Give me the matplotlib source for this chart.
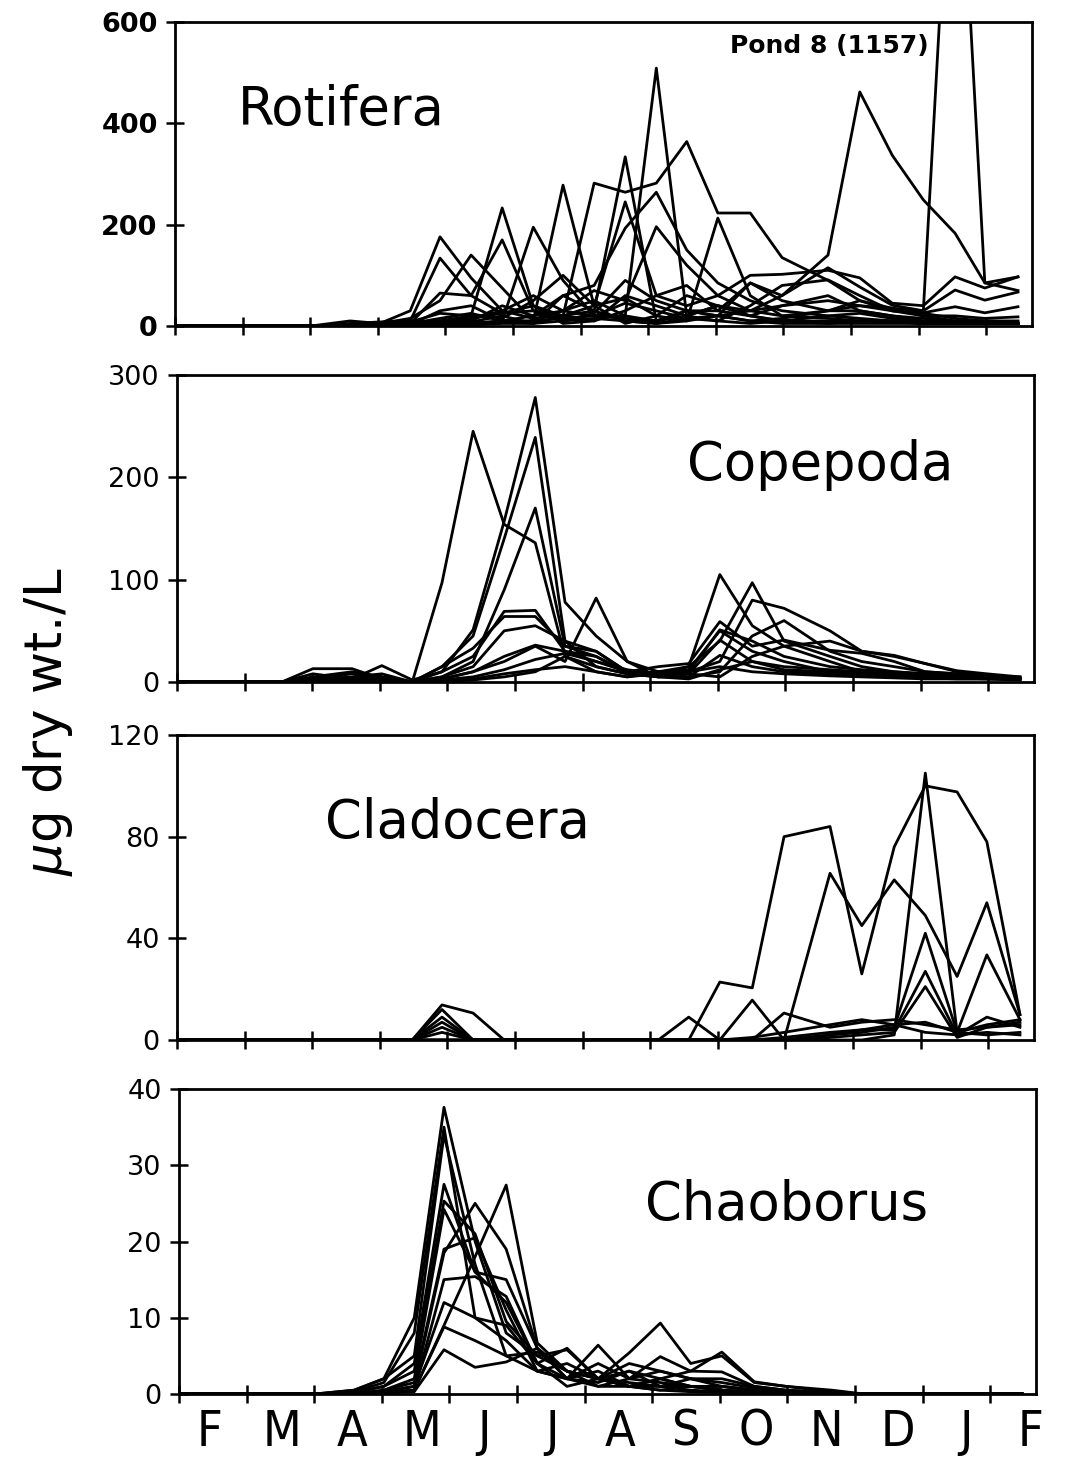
import numpy as np
import matplotlib.pyplot as plt

plt.rcParams['font.family'] = ['DejaVu Sans']

# sampling dates in months after 1 February
sample_month = [0.00, 1.01, 1.55, 2.01, 2.59, 3.03, 3.48, 3.92, 4.38, 4.84, 5.30, 5.74,
                6.20, 6.66, 7.12, 7.57, 8.03, 8.51, 8.98, 9.66, 10.13, 10.61, 11.07,
                11.54, 11.98, 12.47]

month_letters = ['F', 'M', 'A', 'M', 'J', 'J', 'A', 'S', 'O', 'N', 'D', 'J', 'F']
month_letter_pos = [0.45, 1.52, 2.56, 3.59, 4.51, 5.52, 6.52, 7.50, 8.54, 9.57,
                    10.64, 11.64, 12.60]

rotifera = [
    [0, 0, 0, 0, 10, 5, 30, 176, 95, 30, 15, 20, 40, 55, 20, 10, 20, 85, 50, 30, 50, 35, 20, 20, 15, 18],
    [0, 0, 0, 0, 5, 8, 10, 134, 60, 25, 40, 20, 10, 30, 60, 40, 60, 100, 102, 110, 95, 45, 40, 97, 75, 97],
    [0, 0, 0, 0, 3, 5, 15, 50, 140, 75, 10, 30, 50, 20, 10, 30, 30, 85, 60, 115, 77, 41, 30, 71, 51, 67],
    [0, 0, 0, 0, 2, 3, 8, 25, 20, 233, 40, 5, 10, 60, 40, 20, 10, 40, 80, 91, 60, 30, 26, 38, 26, 38],
    [0, 0, 0, 0, 2, 2, 5, 65, 60, 170, 30, 10, 25, 90, 50, 30, 20, 10, 15, 30, 30, 20, 15, 10, 10, 10],
    [0, 0, 0, 0, 0, 2, 5, 15, 25, 10, 195, 90, 20, 45, 30, 15, 10, 5, 10, 20, 25, 15, 10, 8, 8, 5],
    [0, 0, 0, 0, 0, 0, 3, 30, 40, 10, 10, 278, 40, 5, 20, 60, 40, 20, 10, 10, 10, 10, 8, 5, 5, 5],
    [0, 0, 0, 0, 0, 0, 2, 10, 15, 25, 30, 20, 282, 264, 282, 364, 223, 223, 135, 90, 50, 30, 20, 10, 5, 5],
    [0, 0, 0, 0, 0, 0, 0, 5, 10, 40, 20, 60, 30, 334, 10, 30, 20, 10, 5, 5, 10, 10, 5, 5, 5, 5],
    [0, 0, 0, 0, 0, 0, 0, 5, 15, 30, 60, 30, 20, 20, 509, 20, 40, 20, 10, 5, 5, 5, 5, 5, 5, 5],
    [0, 0, 0, 0, 0, 0, 2, 10, 20, 15, 50, 100, 40, 245, 60, 80, 30, 20, 40, 60, 30, 20, 10, 5, 5, 5],
    [0, 0, 0, 0, 0, 0, 0, 5, 8, 20, 5, 60, 80, 193, 264, 150, 85, 50, 30, 20, 15, 10, 5, 5, 5, 5],
    [0, 0, 0, 0, 0, 0, 0, 3, 5, 10, 20, 30, 70, 50, 196, 120, 60, 30, 20, 15, 10, 8, 5, 5, 5, 5],
    [0, 0, 0, 0, 0, 0, 0, 0, 5, 10, 5, 20, 30, 10, 5, 10, 213, 60, 20, 30, 40, 30, 25, 15, 10, 8],
    [0, 0, 0, 0, 0, 0, 0, 2, 5, 8, 10, 15, 20, 15, 10, 20, 40, 30, 60, 140, 462, 337, 249, 183, 85, 97],
    [0, 0, 0, 0, 0, 0, 0, 0, 2, 5, 5, 10, 15, 10, 5, 15, 20, 30, 40, 50, 40, 35, 30, 1157, 85, 70],
]

copepoda = [
    [0, 0, 0, 13, 13, 3, 0, 97, 245, 154, 136, 25, 10, 5, 8, 10, 15, 10, 8, 6, 5, 4, 3, 3, 3, 2],
    [0, 0, 0, 8, 3, 16, 2, 10, 51, 157, 278, 78, 45, 20, 10, 15, 40, 97, 40, 25, 15, 10, 8, 5, 4, 3],
    [0, 0, 0, 5, 10, 5, 0, 15, 45, 140, 239, 40, 15, 8, 10, 12, 50, 30, 20, 10, 8, 6, 4, 3, 3, 2],
    [0, 0, 0, 3, 8, 2, 0, 5, 20, 90, 170, 35, 30, 10, 8, 15, 105, 55, 35, 20, 10, 8, 6, 5, 4, 3],
    [0, 0, 0, 2, 5, 8, 0, 3, 10, 20, 35, 20, 82, 20, 5, 10, 20, 80, 72, 50, 30, 26, 18, 11, 8, 5],
    [0, 0, 0, 0, 3, 5, 0, 10, 25, 69, 70, 30, 20, 10, 15, 18, 59, 35, 41, 31, 28, 20, 10, 8, 6, 5],
    [0, 0, 0, 0, 2, 3, 0, 15, 33, 64, 64, 35, 25, 10, 6, 10, 51, 40, 25, 15, 12, 10, 8, 6, 5, 4],
    [0, 0, 0, 0, 0, 2, 0, 5, 15, 50, 55, 40, 30, 10, 5, 8, 41, 20, 12, 10, 8, 6, 5, 5, 4, 3],
    [0, 0, 0, 0, 0, 0, 0, 3, 10, 25, 36, 30, 25, 8, 5, 5, 26, 15, 10, 8, 6, 5, 4, 4, 3, 3],
    [0, 0, 0, 0, 0, 0, 0, 2, 5, 12, 22, 28, 20, 12, 8, 5, 10, 45, 60, 30, 20, 15, 10, 8, 5, 4],
    [0, 0, 0, 0, 0, 0, 0, 1, 3, 8, 12, 15, 10, 5, 10, 8, 5, 25, 35, 40, 30, 25, 18, 10, 6, 4],
    [0, 0, 0, 0, 0, 0, 0, 0, 2, 5, 10, 25, 15, 8, 5, 3, 12, 20, 15, 12, 10, 8, 6, 5, 4, 3],
]

cladocera = [
    [0, 0, 0, 0, 0, 0, 0, 13.8, 10.6, 0, 0, 0, 0, 0, 0, 0, 22.8, 20.5, 80, 84, 26, 76, 100, 97.6, 78, 10],
    [0, 0, 0, 0, 0, 0, 0, 12, 0, 0, 0, 0, 0, 0, 0, 0, 0, 0, 0, 65.6, 45, 63, 49, 25, 54, 10],
    [0, 0, 0, 0, 0, 0, 0, 9, 0, 0, 0, 0, 0, 0, 0, 0, 0, 0, 0, 0, 0, 2, 105, 3, 2, 3],
    [0, 0, 0, 0, 0, 0, 0, 7, 0, 0, 0, 0, 0, 0, 0, 0, 0, 0, 0, 2, 3, 5, 42, 3, 33.5, 8],
    [0, 0, 0, 0, 0, 0, 0, 5, 0, 0, 0, 0, 0, 0, 0, 0, 0, 0, 1, 3, 4, 4, 27, 2, 9, 5],
    [0, 0, 0, 0, 0, 0, 0, 3, 0, 0, 0, 0, 0, 0, 0, 9, 0, 0, 0, 1, 2, 3, 21, 1, 5, 6],
    [0, 0, 0, 0, 0, 0, 0, 0, 0, 0, 0, 0, 0, 0, 0, 0, 0, 15.7, 0, 2, 4, 6, 7, 3, 6, 8],
    [0, 0, 0, 0, 0, 0, 0, 0, 0, 0, 0, 0, 0, 0, 0, 0, 0, 0, 10.6, 5, 7, 8, 6, 4, 5, 7],
    [0, 0, 0, 0, 0, 0, 0, 0, 0, 0, 0, 0, 0, 0, 0, 0, 0, 1, 3, 6, 8, 6, 3, 2, 3, 2],
]

chaoborus = [
    [0, 0, 0, 0, 0.5, 2, 10, 37.6, 20, 8, 5, 3, 2, 1, 2, 1, 1, 0.5, 0.3, 0, 0, 0, 0, 0, 0, 0],
    [0, 0, 0, 0, 0.3, 1.5, 8, 35, 10, 9, 4, 6, 2, 4, 3, 2, 2, 1, 0.5, 0.2, 0, 0, 0, 0, 0, 0],
    [0, 0, 0, 0, 0.5, 2, 5, 34, 17, 5, 3, 2, 6.4, 2, 4.9, 3, 5.5, 1.6, 1, 0.5, 0, 0, 0, 0, 0, 0],
    [0, 0, 0, 0, 0.2, 1, 4, 27.5, 16, 15, 6, 3, 2, 5.4, 9.3, 4, 5, 1.5, 1, 0.3, 0, 0, 0, 0, 0, 0],
    [0, 0, 0, 0, 0.2, 1, 3, 25.3, 21, 9.5, 5, 5.8, 2, 3, 2, 3, 2.9, 1, 0.5, 0.2, 0, 0, 0, 0, 0, 0],
    [0, 0, 0, 0, 0, 0.5, 2, 24.2, 16, 12, 4, 2, 4, 2, 3, 2, 1.5, 0.8, 0.4, 0.1, 0, 0, 0, 0, 0, 0],
    [0, 0, 0, 0, 0, 0.5, 1.5, 19, 20.5, 11, 3, 2, 3, 1, 2, 1, 1, 0.5, 0.3, 0, 0, 0, 0, 0, 0, 0],
    [0, 0, 0, 0, 0, 0.3, 1, 18.5, 25, 19, 6, 2, 1.5, 3, 1, 2, 1, 0.5, 0.2, 0, 0, 0, 0, 0, 0, 0],
    [0, 0, 0, 0, 0, 0.3, 1, 12, 10, 7, 3, 4, 2, 1.5, 1, 1, 0.5, 0.3, 0, 0, 0, 0, 0, 0, 0, 0],
    [0, 0, 0, 0, 0, 0.2, 0.5, 9, 18, 27.4, 6.7, 3, 1, 2, 1.5, 1, 0.5, 0.3, 0, 0, 0, 0, 0, 0, 0, 0],
    [0, 0, 0, 0, 0, 0.2, 0.5, 8.8, 7, 5, 5.5, 3, 2, 1, 1, 0.5, 0.3, 0, 0, 0, 0, 0, 0, 0, 0, 0],
    [0, 0, 0, 0, 0, 0.1, 0.3, 5.8, 3.5, 4.2, 6, 2, 1, 1, 0.5, 0.3, 0.2, 0, 0, 0, 0, 0, 0, 0, 0, 0],
    [0, 0, 0, 0, 0, 0.1, 0.5, 15, 15.4, 12.8, 4, 1, 2, 1, 0.5, 1, 0.5, 0.2, 0, 0, 0, 0, 0, 0, 0, 0],
]

# name, series, y max, y ticks, label x/y (axes fraction), tick label weight
panels = [
    ('Rotifera', rotifera, 600, [0, 200, 400, 600], 0.073, 0.661, 'bold'),
    ('Copepoda', copepoda, 300, [0, 100, 200, 300], 0.595, 0.658, 'normal'),
    ('Cladocera', cladocera, 120, [0, 40, 80, 120], 0.173, 0.662, 'normal'),
    ('Chaoborus', chaoborus, 40, [0, 10, 20, 30, 40], 0.544, 0.570, 'normal'),
]

# axes boxes in pixels: left, top, bottom
boxes = [(175, 22, 326), (177, 375, 682), (177, 735, 1040), (179, 1089, 1394)]

W, H = 1068, 1458
fig = plt.figure(figsize=(W / 100, H / 100), dpi=100)
xmax = 857 / 67.6

for k, (name, series, ymax, yticks, tx, ty, wt) in enumerate(panels):
    left, top, bottom = boxes[k]
    ax = fig.add_axes([left / W, 1 - bottom / H, 857 / W, (bottom - top) / H])
    for s in series:
        ax.plot(sample_month, s, color='black', lw=2.0, solid_joinstyle='round')
    ax.set_xlim(0, xmax)
    ax.set_ylim(0, ymax)
    ax.set_yticks(yticks)
    ax.set_yticklabels([str(v) for v in yticks], fontsize=19.5, fontweight=wt)
    ax.set_xticks(range(13))
    ax.set_xticklabels([])
    ax.tick_params(axis='both', which='major', direction='inout', length=13,
                   width=1.8, pad=6, top=False, right=False)
    for sp in ax.spines.values():
        sp.set_linewidth(2.0)
    ax.text(tx, ty, name, transform=ax.transAxes, fontsize=38, va='baseline', ha='left')
    if k == 0:
        ax.text(0.648, 0.898, 'Pond 8 (1157)', transform=ax.transAxes, fontsize=18,
                fontweight='bold', va='baseline', ha='left')
    if k == 3:
        base_y = (bottom - 1446) / (bottom - top)
        for pos, letter in zip(month_letter_pos, month_letters):
            ax.text(pos, base_y, letter, transform=ax.get_xaxis_transform(),
                    fontsize=36, fontstretch='condensed', ha='center', va='baseline')

fig.text(48 / W, 1 - 722 / H, r'$\mu$g dry wt./L', rotation=90, fontsize=37,
         ha='center', va='center')

plt.savefig('out.png', dpi=100)
